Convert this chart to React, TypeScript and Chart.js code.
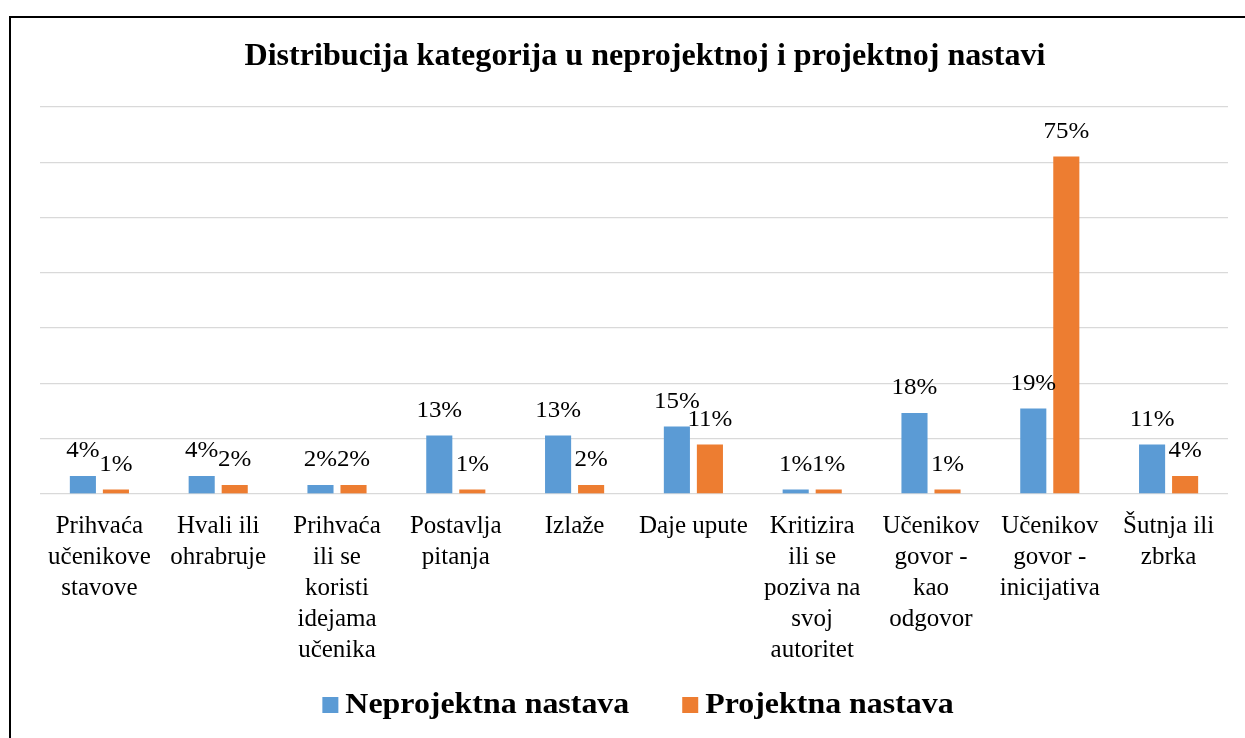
import { useEffect, useRef } from "react";
import { Chart, registerables } from "chart.js";

Chart.register(...registerables);

const TITLE = "Distribucija kategorija u neprojektnoj i projektnoj nastavi";
const CATEGORIES: string[][] = [
  ["Prihvaća", "učenikove", "stavove"],
  ["Hvali ili", "ohrabruje"],
  ["Prihvaća", "ili se", "koristi", "idejama", "učenika"],
  ["Postavlja", "pitanja"],
  ["Izlaže"],
  ["Daje upute"],
  ["Kritizira", "ili se", "poziva na", "svoj", "autoritet"],
  ["Učenikov", "govor -", "kao", "odgovor"],
  ["Učenikov", "govor -", "inicijativa"],
  ["Šutnja ili", "zbrka"],
];
const SERIES_NAMES = ["Neprojektna nastava", "Projektna nastava"];
const NEPROJEKTNA = [4, 4, 2, 13, 13, 15, 1, 18, 19, 11];
const PROJEKTNA = [1, 2, 2, 1, 2, 11, 1, 1, 75, 4];
const COLORS = ["#5B9BD5", "#ED7D31"];
const Y_MAX = 86;
const GRID_STEPS = 7;

const SERIF = "'Liberation Serif', 'Times New Roman', serif";

function drawText(ctx: any, text: string, x: number, y: number, align: string, sx: number) {
  ctx.save();
  ctx.translate(x, y);
  ctx.scale(sx, 1);
  ctx.textAlign = align;
  ctx.textBaseline = "middle";
  ctx.fillText(text, 0, 0);
  ctx.restore();
}

const labelsPlugin = {
  id: "valueLabels",
  afterDatasetsDraw(chart: any) {
    const ctx = chart.ctx;
    ctx.save();
    ctx.font = `24px ${SERIF}`;
    ctx.fillStyle = "#000";
    chart.data.datasets.forEach((ds: any, di: number) => {
      const meta = chart.getDatasetMeta(di);
      meta.data.forEach((el: any, i: number) => {
        drawText(ctx, `${ds.data[i]}%`, el.x, el.y - 25, "center", 1.04);
      });
    });
    ctx.restore();
  },
};

const titleLegendPlugin = {
  id: "titleLegend",
  afterDraw(chart: any) {
    const ctx = chart.ctx;
    ctx.save();
    ctx.fillStyle = "#000";
    ctx.font = `bold 31px ${SERIF}`;
    drawText(ctx, TITLE, 645, 57, "center", 1.035);

    const sx = 1.1;
    ctx.font = `bold 29px ${SERIF}`;
    const box = 16;
    const gapText = 7;
    const gapItems = 53;
    const widths = SERIES_NAMES.map((n) => ctx.measureText(n).width * sx);
    const total = widths.reduce((a, w) => a + box + gapText + w, 0) + gapItems * (SERIES_NAMES.length - 1);
    let x = 638 - total / 2;
    const cy = 705;
    SERIES_NAMES.forEach((n, i) => {
      ctx.fillStyle = COLORS[i];
      ctx.fillRect(x, cy - box / 2, box, box);
      x += box + gapText;
      ctx.fillStyle = "#000";
      drawText(ctx, n, x, cy + 1, "left", sx);
      x += widths[i] + gapItems;
    });
    ctx.restore();
  },
};

export default function App() {
  const ref = useRef<HTMLCanvasElement | null>(null);

  useEffect(() => {
    if (!ref.current) return;
    const chart = new Chart(ref.current, {
      type: "bar",
      data: {
        labels: CATEGORIES,
        datasets: [
          {
            label: SERIES_NAMES[0],
            data: NEPROJEKTNA,
            backgroundColor: COLORS[0],
            barPercentage: 0.79,
            categoryPercentage: 0.556,
          },
          {
            label: SERIES_NAMES[1],
            data: PROJEKTNA,
            backgroundColor: COLORS[1],
            barPercentage: 0.79,
            categoryPercentage: 0.556,
          },
        ],
      },
      options: {
        animation: false,
        responsive: false,
        devicePixelRatio: 1,
        layout: { padding: { left: 40, right: 17, top: 107, bottom: 44 } },
        plugins: {
          legend: { display: false },
          title: { display: false },
          tooltip: { enabled: false },
        },
        scales: {
          x: {
            grid: { display: false, drawTicks: false },
            border: { display: false },
            ticks: {
              color: "#000",
              font: { family: SERIF, size: 25, lineHeight: 1.24 },
              padding: 17,
              maxRotation: 0,
              autoSkip: false,
            },
            afterFit: (s: any) => {
              s.height = 200;
            },
          },
          y: {
            min: 0,
            max: Y_MAX,
            grid: { color: "#D9D9D9", lineWidth: 1.3, drawTicks: false },
            border: { display: false },
            ticks: { display: false },
            afterBuildTicks: (s: any) => {
              s.ticks = Array.from({ length: GRID_STEPS + 1 }, (_, i) => ({ value: (i * Y_MAX) / GRID_STEPS }));
            },
            afterFit: (s: any) => {
              s.width = 0;
            },
          },
        },
      },
      plugins: [labelsPlugin, titleLegendPlugin],
    });
    return () => chart.destroy();
  }, []);

  return (
    <>
      <div
        style={{
          position: "fixed",
          left: 9,
          top: 16,
          width: 1300,
          height: 800,
          border: "2px solid #000",
          boxSizing: "border-box",
          background: "#fff",
        }}
      />
      <canvas
        ref={ref}
        width={1245}
        height={738}
        style={{ position: "fixed", left: 0, top: 0, width: 1245, height: 738 }}
      />
    </>
  );
}
